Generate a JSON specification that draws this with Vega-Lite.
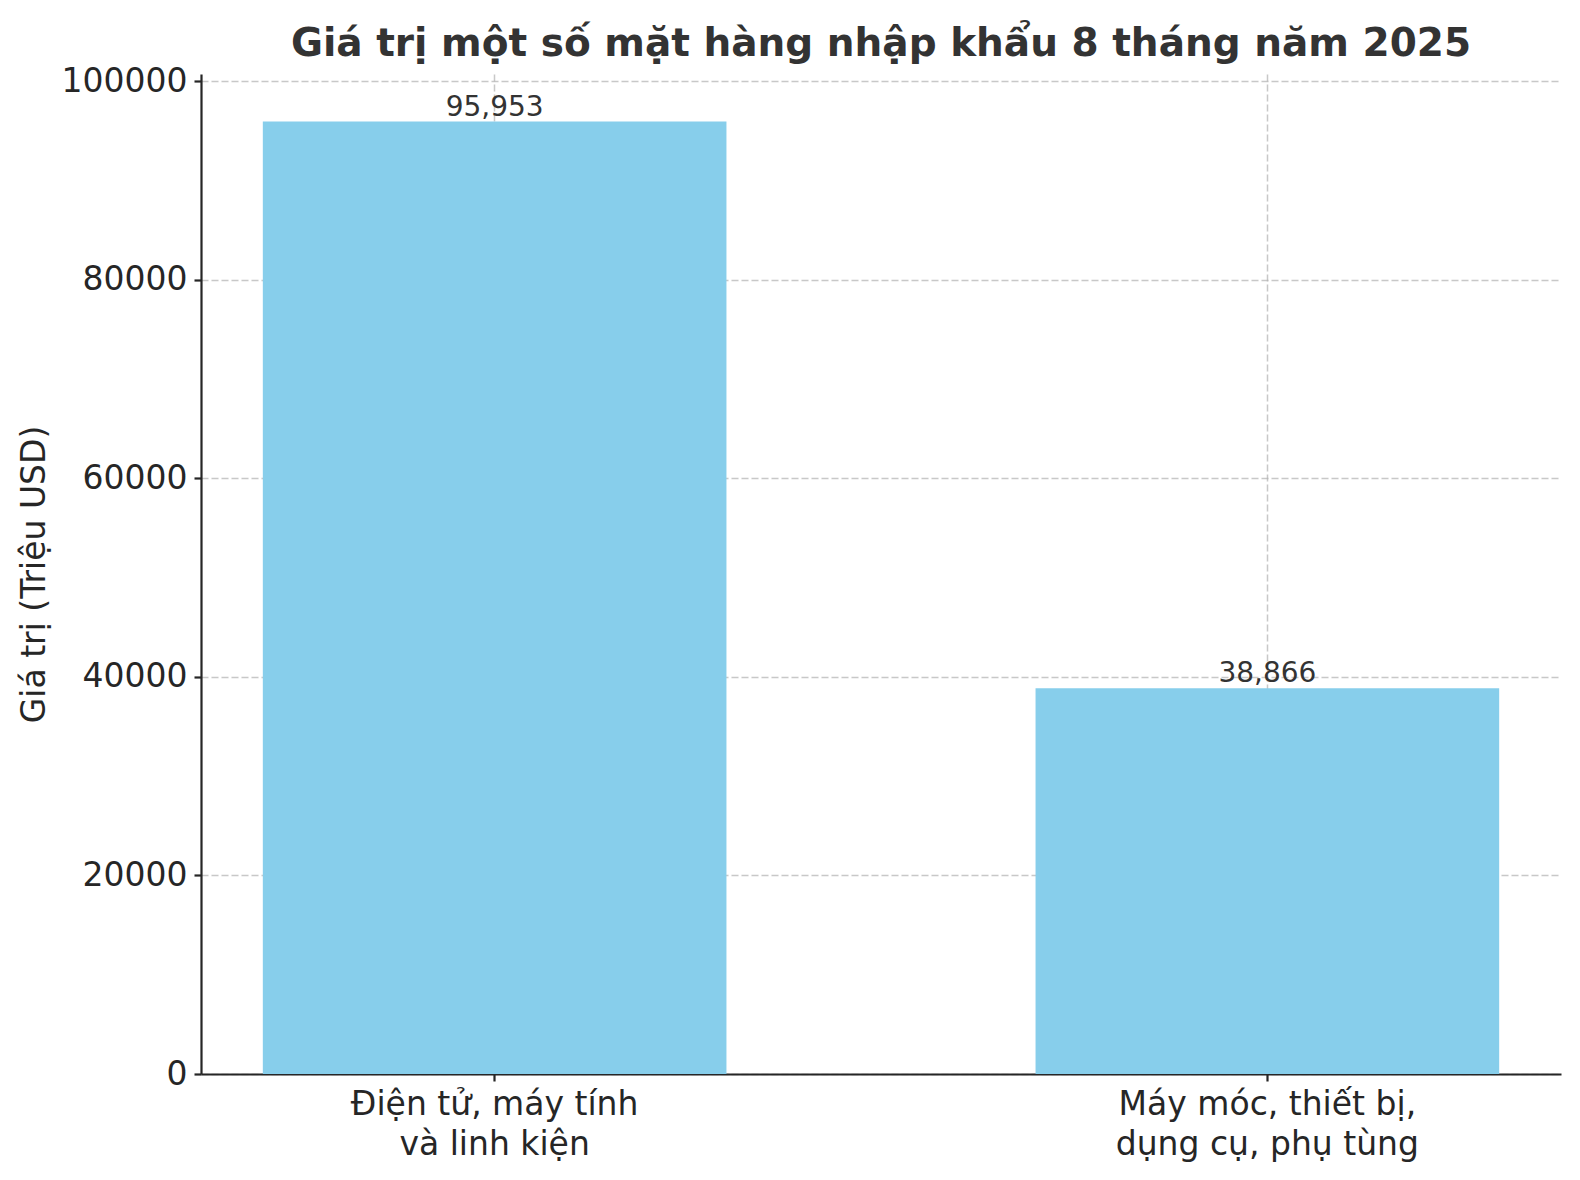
{
  "$schema": "https://vega.github.io/schema/vega-lite/v6.json",
  "autosize": {"type": "none"},
  "width": 1360,
  "height": 1000,
  "padding": {"left": 201, "top": 74, "right": 19, "bottom": 106},
  "background": "white",
  "config": {
    "font": "DejaVu Sans",
    "view": {"stroke": null},
    "axis": {
      "zindex": 1,
      "domainColor": "#262626",
      "domainWidth": 2.2,
      "tickColor": "#262626",
      "tickWidth": 2.2,
      "tickSize": 7,
      "labelFont": "DejaVu Sans",
      "labelFontSize": 33,
      "labelColor": "#262626",
      "labelPadding": 7,
      "labelLimit": 0,
      "titleFont": "DejaVu Sans",
      "titleFontSize": 33,
      "titleFontWeight": "normal",
      "titleColor": "#262626",
      "grid": true,
      "gridColor": "#b0b0b0",
      "gridOpacity": 0.7,
      "gridWidth": 1.5,
      "gridDash": [7, 3]
    }
  },
  "title": {
    "text": "Giá trị một số mặt hàng nhập khẩu 8 tháng năm 2025",
    "font": "DejaVu Sans",
    "fontSize": 39,
    "fontWeight": "bold",
    "color": "#333333",
    "anchor": "middle",
    "baseline": "alphabetic",
    "offset": -30
  },
  "data": {
    "values": [
      {"mat_hang": "Điện tử, máy tính\nvà linh kiện", "gia_tri": 95953},
      {"mat_hang": "Máy móc, thiết bị,\ndụng cụ, phụ tùng", "gia_tri": 38866}
    ]
  },
  "encoding": {
    "x": {
      "field": "mat_hang",
      "type": "nominal",
      "sort": null,
      "scale": {"paddingInner": 0.4, "paddingOuter": 0.08},
      "axis": {
        "title": null,
        "labelAngle": 0,
        "labelExpr": "split(datum.label, '\\n')",
        "labelLineHeight": 40,
        "labelBaseline": "top",
        "labelLimit": 0,
        "bandPosition": 0.5
      }
    },
    "y": {
      "field": "gia_tri",
      "type": "quantitative",
      "scale": {"domain": [0, 100750], "nice": false, "zero": true},
      "axis": {
        "title": "Giá trị (Triệu USD)",
        "values": [0, 20000, 40000, 60000, 80000, 100000],
        "format": "d",
        "titlePadding": 10
      }
    }
  },
  "layer": [
    {
      "mark": {"type": "bar", "color": "#87CEEB"}
    },
    {
      "mark": {
        "type": "text",
        "baseline": "alphabetic",
        "align": "center",
        "dy": -6,
        "fontSize": 28,
        "color": "#333333",
        "font": "DejaVu Sans"
      },
      "encoding": {
        "text": {"field": "gia_tri", "type": "quantitative", "format": ","}
      }
    }
  ]
}
